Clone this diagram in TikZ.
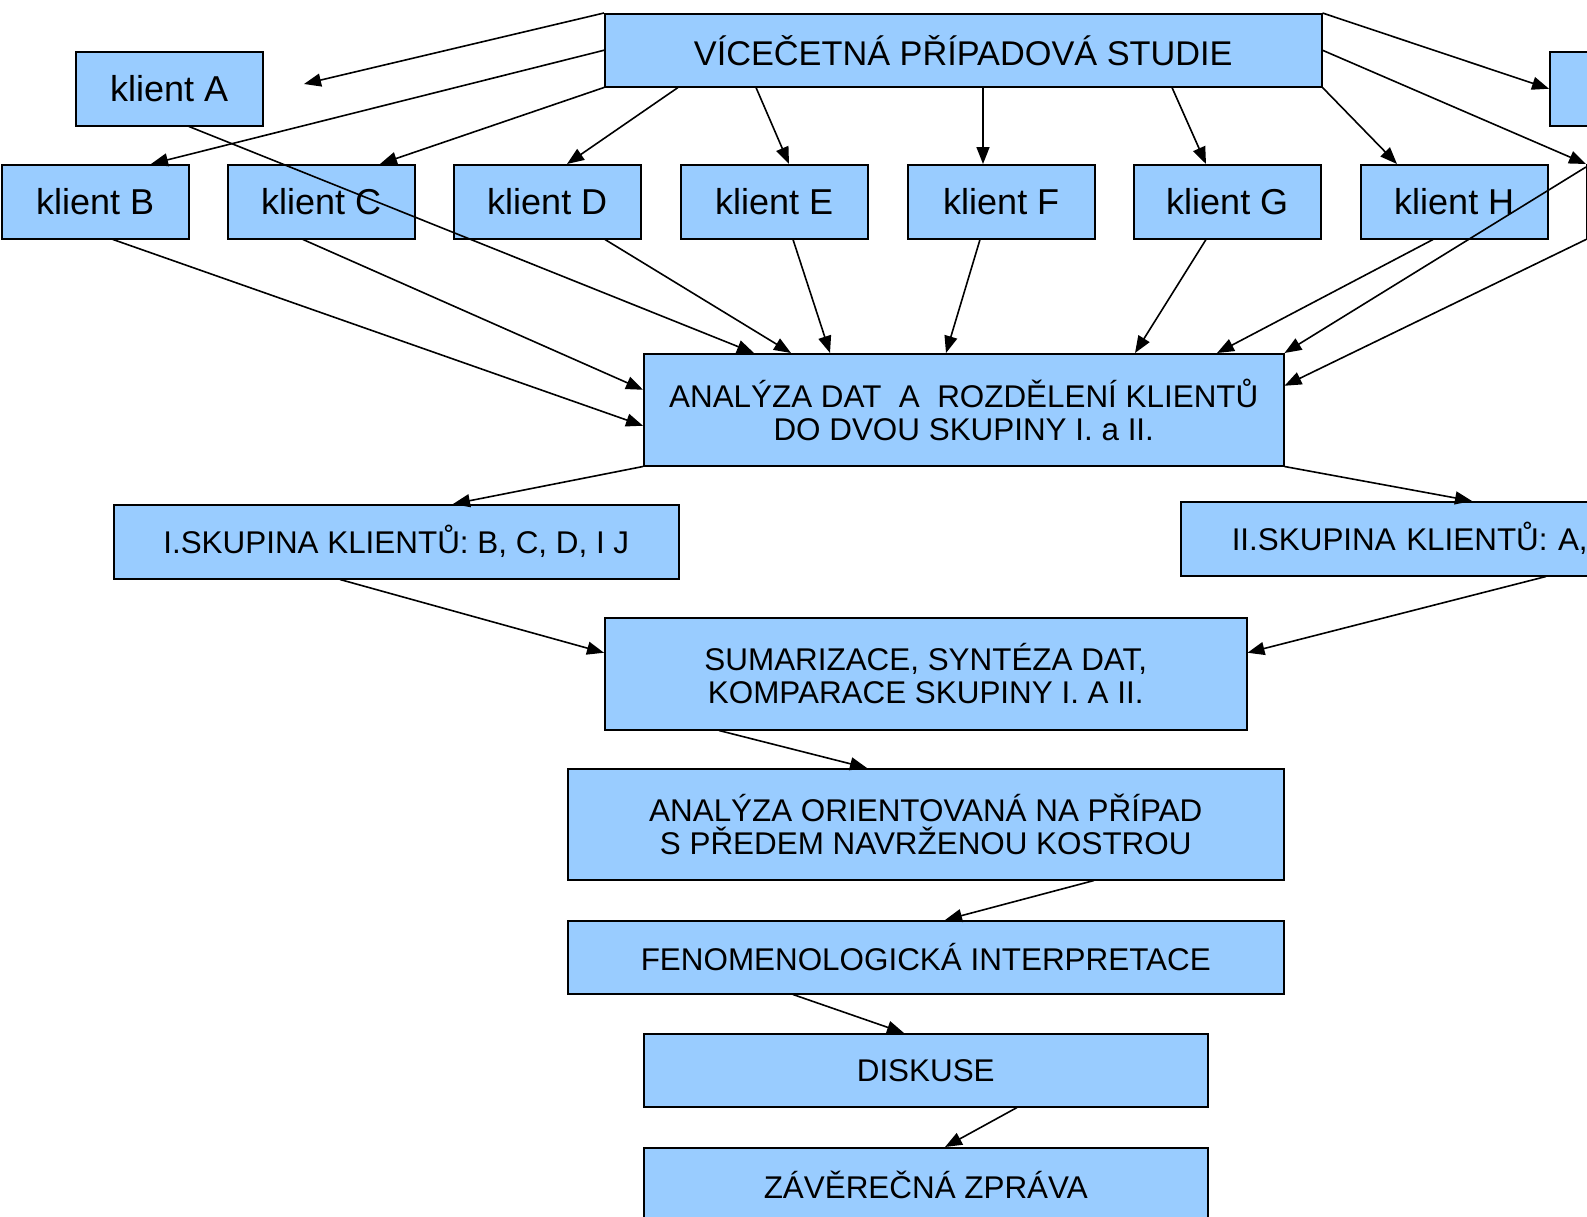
\documentclass[tikz,border=0pt]{standalone}
\usepackage{fontspec}
\setmainfont{Liberation Sans}
\usetikzlibrary{arrows.meta}
\definecolor{boxblue}{RGB}{153,204,255}
\begin{document}
\begin{tikzpicture}[
  box/.style={draw=black, line width=1.5pt, fill=boxblue, inner sep=0pt,
    anchor=north west, align=center, font=\fontsize{31.4}{33.4}\selectfont},
  clientbox/.style={box, minimum width=187pt, minimum height=74pt,
    font=\fontsize{36}{40}\selectfont},
  conn/.style={line width=1.6pt, -{Triangle[length=17pt,width=13pt]}}]
\path[use as bounding box, clip] (0pt,0pt) rectangle (1587pt,-1216pt);
\node[box, minimum width=717pt, minimum height=73pt, font=\fontsize{34.3}{40}\selectfont] (top) at (604pt,-13pt) {VÍCEČETNÁ PŘÍPADOVÁ STUDIE};
\node[clientbox] (kA) at (75pt,-51pt) {klient A};
\node[clientbox] (kB) at (1pt,-164pt) {klient B};
\node[clientbox] (kC) at (227pt,-164pt) {klient C};
\node[clientbox] (kD) at (453pt,-164pt) {klient D};
\node[clientbox] (kE) at (680pt,-164pt) {klient E};
\node[clientbox] (kF) at (907pt,-164pt) {klient F};
\node[clientbox] (kG) at (1133pt,-164pt) {klient G};
\node[clientbox] (kH) at (1360pt,-164pt) {klient H};
\node[clientbox] (kI) at (1549pt,-51pt) {};
\node[clientbox] (kJ) at (1586pt,-164pt) {};
\coordinate (aTip) at (304pt,-84pt);
\node[box, minimum width=640pt, minimum height=112pt] (an) at (643pt,-353pt) {ANALÝZA DAT\ \ A\ \ ROZDĚLENÍ KLIENTŮ\\DO DVOU SKUPINY I. a II.};
\node[box, minimum width=565pt, minimum height=74pt] (g1) at (113pt,-504pt) {I.SKUPINA KLIENTŮ: B, C, D, I J};
\node[box, minimum height=74pt, text width=560pt, align=left, inner xsep=51pt] (g2) at (1180pt,-501pt) {II.SKUPINA KLIENTŮ: A,};
\node[box, minimum width=642pt, minimum height=112pt] (sum) at (604pt,-617pt) {SUMARIZACE, SYNTÉZA DAT,\\KOMPARACE SKUPINY I. A II.};
\node[box, minimum width=716pt, minimum height=111pt] (ori) at (567pt,-768pt) {ANALÝZA ORIENTOVANÁ NA PŘÍPAD\\S PŘEDEM NAVRŽENOU KOSTROU};
\node[box, minimum width=716pt, minimum height=73pt] (fen) at (567pt,-920pt) {FENOMENOLOGICKÁ INTERPRETACE};
\node[box, minimum width=564pt, minimum height=73pt] (dis) at (643pt,-1033pt) {DISKUSE};
\node[box, minimum width=564pt, minimum height=74pt] (zav) at (643pt,-1147pt) {ZÁVĚREČNÁ ZPRÁVA};
\draw[conn] (top.north west) -- (aTip);
\draw[conn] (top.west) -- ([xshift=150pt]kB.north west);
\draw[conn] (top.south west) -- ([xshift=153pt]kC.north west);
\draw[conn] ([xshift=74pt]top.south west) -- ([xshift=114pt]kD.north west);
\draw[conn] ([xshift=152pt]top.south west) -- ([xshift=109pt]kE.north west);
\draw[conn] ([xshift=379pt]top.south west) -- ([xshift=76pt]kF.north west);
\draw[conn] ([xshift=568pt]top.south west) -- ([xshift=73pt]kG.north west);
\draw[conn] (top.south east) -- ([xshift=37pt]kH.north west);
\draw[conn] (top.north east) -- (kI.west);
\draw[conn] (top.east) -- (kJ.north west);
\draw[conn] ([xshift=114pt]kA.south west) -- ([xshift=111pt]an.north west);
\draw[conn] ([xshift=112pt]kB.south west) -- ([yshift=-16pt]an.west);
\draw[conn] ([xshift=76pt]kC.south west) -- ([yshift=20pt]an.west);
\draw[conn] ([xshift=152pt]kD.south west) -- ([xshift=148pt]an.north west);
\draw[conn] ([xshift=113pt]kE.south west) -- ([xshift=187pt]an.north west);
\draw[conn] ([xshift=73pt]kF.south west) -- ([xshift=303pt]an.north west);
\draw[conn] ([xshift=73pt]kG.south west) -- ([xshift=492pt]an.north west);
\draw[conn] ([xshift=73pt]kH.south west) -- ([xshift=574pt]an.north west);
\draw[conn] ([yshift=-3pt]kJ.north west) -- (an.north east);
\draw[conn] (kJ.south west) -- ([yshift=24pt]an.east);
\draw[conn] (an.south west) -- ([xshift=340pt]g1.north west);
\draw[conn] (an.south east) -- ([xshift=292pt]g2.north west);
\draw[conn] ([xshift=227pt]g1.south west) -- ([yshift=21pt]sum.west);
\draw[conn] ([xshift=366pt]g2.south west) -- ([yshift=21pt]sum.east);
\draw[conn] ([xshift=115pt]sum.south west) -- ([xshift=300pt]ori.north west);
\draw[conn] ([xshift=527pt]ori.south west) -- ([xshift=378pt]fen.north west);
\draw[conn] ([xshift=226pt]fen.south west) -- ([xshift=261pt]dis.north west);
\draw[conn] ([xshift=374pt]dis.south west) -- ([xshift=302pt]zav.north west);
\end{tikzpicture}
\end{document}
